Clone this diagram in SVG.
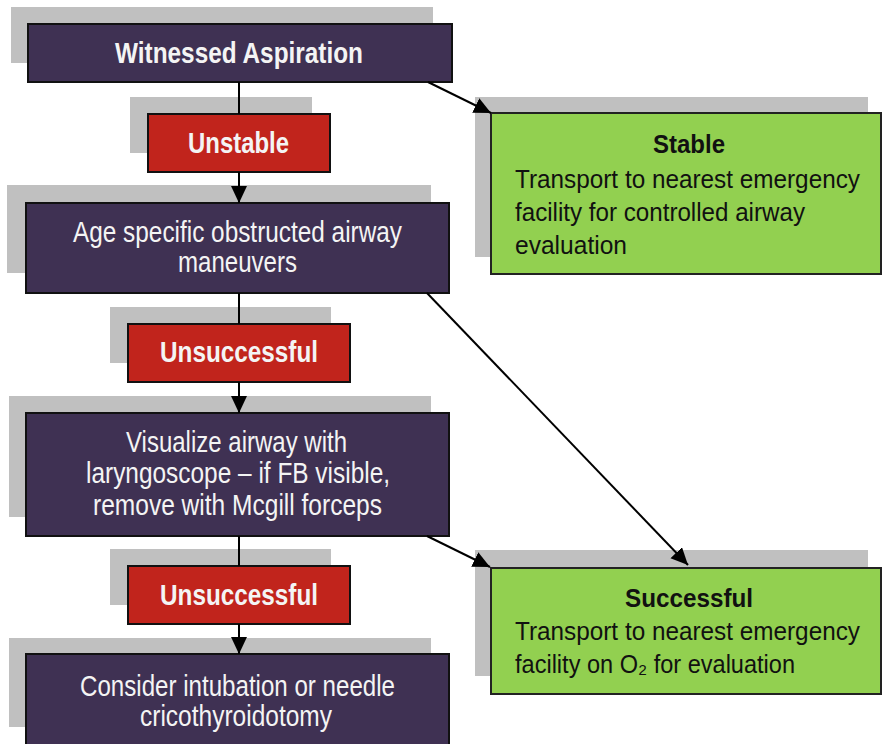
<svg xmlns="http://www.w3.org/2000/svg" width="883" height="744" viewBox="0 0 883 744">
  <defs>
    <marker id="arrow" markerUnits="userSpaceOnUse" markerWidth="18" markerHeight="18" refX="17" refY="8" orient="auto">
      <path d="M0,0 L17,8 L0,16 Z" fill="#000"/>
    </marker>
  </defs>
  <style>
    .shadow { fill: #c0c0c0; }
    .step { fill: #3f3153; stroke: #111; stroke-width: 2; }
    .fail { fill: #c1241c; stroke: #111; stroke-width: 2; }
    .ok { fill: #92d050; stroke: #222; stroke-width: 2; }
    text { font-family: "Liberation Sans", Arial, "DejaVu Sans", sans-serif; }
    .w { fill: #f4f4f4; font-size: 29px; }
    .wb { fill: #f4f4f4; font-size: 29px; font-weight: bold; }
    .k { fill: #111; font-size: 26px; }
    .kb { fill: #111; font-size: 26px; font-weight: bold; }
    .link { stroke: #000; stroke-width: 2; fill: none; }
    .link.arr { marker-end: url(#arrow); }
  </style>

  <rect width="883" height="744" fill="#fff"/>

  <g id="witnessed">
    <rect class="shadow" x="11" y="7" width="422" height="56"/>
    <rect class="step" x="28" y="24" width="424" height="58"/>
    <text class="wb" x="115" y="63" textLength="248" lengthAdjust="spacingAndGlyphs">Witnessed Aspiration</text>
  </g>

  <g id="unstable">
    <rect class="shadow" x="130" y="97" width="182" height="56"/>
    <rect class="fail" x="148" y="114" width="182" height="58"/>
    <text class="wb" x="188" y="153" textLength="101" lengthAdjust="spacingAndGlyphs">Unstable</text>
  </g>

  <g id="stable">
    <rect class="shadow" x="475" y="97" width="393" height="160"/>
    <rect class="ok" x="491" y="113" width="390" height="161"/>
    <text class="kb" x="653" y="153" textLength="72" lengthAdjust="spacingAndGlyphs">Stable</text>
    <text class="k" x="515" y="188" textLength="345" lengthAdjust="spacingAndGlyphs">Transport to nearest emergency</text>
    <text class="k" x="515" y="221" textLength="290" lengthAdjust="spacingAndGlyphs">facility for controlled airway</text>
    <text class="k" x="515" y="254" textLength="112" lengthAdjust="spacingAndGlyphs">evaluation</text>
  </g>

  <g id="maneuvers">
    <rect class="shadow" x="7" y="185" width="424" height="88"/>
    <rect class="step" x="26" y="203" width="423" height="90"/>
    <text class="w" x="73" y="242" textLength="329" lengthAdjust="spacingAndGlyphs">Age specific obstructed airway</text>
    <text class="w" x="178" y="272" textLength="119" lengthAdjust="spacingAndGlyphs">maneuvers</text>
  </g>

  <g id="unsuccessful-1">
    <rect class="shadow" x="110" y="307" width="221" height="56"/>
    <rect class="fail" x="128" y="324" width="222" height="58"/>
    <text class="wb" x="160" y="362" textLength="158" lengthAdjust="spacingAndGlyphs">Unsuccessful</text>
  </g>

  <g id="laryngoscope">
    <rect class="shadow" x="9" y="396" width="422" height="121"/>
    <rect class="step" x="26" y="413" width="423" height="123"/>
    <text class="w" x="126" y="452" textLength="221" lengthAdjust="spacingAndGlyphs">Visualize airway with</text>
    <text class="w" x="86" y="483" textLength="304" lengthAdjust="spacingAndGlyphs">laryngoscope – if FB visible,</text>
    <text class="w" x="93" y="515" textLength="289" lengthAdjust="spacingAndGlyphs">remove with Mcgill forceps</text>
  </g>

  <g id="unsuccessful-2">
    <rect class="shadow" x="110" y="549" width="221" height="56"/>
    <rect class="fail" x="128" y="566" width="222" height="58"/>
    <text class="wb" x="160" y="605" textLength="158" lengthAdjust="spacingAndGlyphs">Unsuccessful</text>
  </g>

  <g id="intubation">
    <rect class="shadow" x="9" y="638" width="422" height="89"/>
    <rect class="step" x="26" y="654" width="423" height="100"/>
    <text class="w" x="80" y="696" textLength="315" lengthAdjust="spacingAndGlyphs">Consider intubation or needle</text>
    <text class="w" x="140" y="726" textLength="192" lengthAdjust="spacingAndGlyphs">cricothyroidotomy</text>
  </g>

  <g id="successful">
    <rect class="shadow" x="475" y="550" width="393" height="126"/>
    <rect class="ok" x="491" y="568" width="390" height="126"/>
    <text class="kb" x="625" y="607" textLength="128" lengthAdjust="spacingAndGlyphs">Successful</text>
    <text class="k" x="515" y="640" textLength="345" lengthAdjust="spacingAndGlyphs">Transport to nearest emergency</text>
    <text class="k" x="515" y="673" textLength="280" lengthAdjust="spacingAndGlyphs">facility on O₂ for evaluation</text>
  </g>

  <g id="connectors">
    <line class="link" x1="239" y1="82" x2="239" y2="114"/>
    <line class="link arr" x1="239" y1="172" x2="239" y2="203"/>
    <line class="link arr" x1="428" y1="82" x2="491" y2="113"/>
    <line class="link" x1="239" y1="293" x2="239" y2="324"/>
    <line class="link arr" x1="239" y1="382" x2="239" y2="413"/>
    <line class="link arr" x1="427" y1="293" x2="688" y2="565"/>
    <line class="link arr" x1="427" y1="536" x2="490" y2="567"/>
    <line class="link" x1="239" y1="536" x2="239" y2="566"/>
    <line class="link arr" x1="239" y1="624" x2="239" y2="654"/>
  </g>
</svg>
